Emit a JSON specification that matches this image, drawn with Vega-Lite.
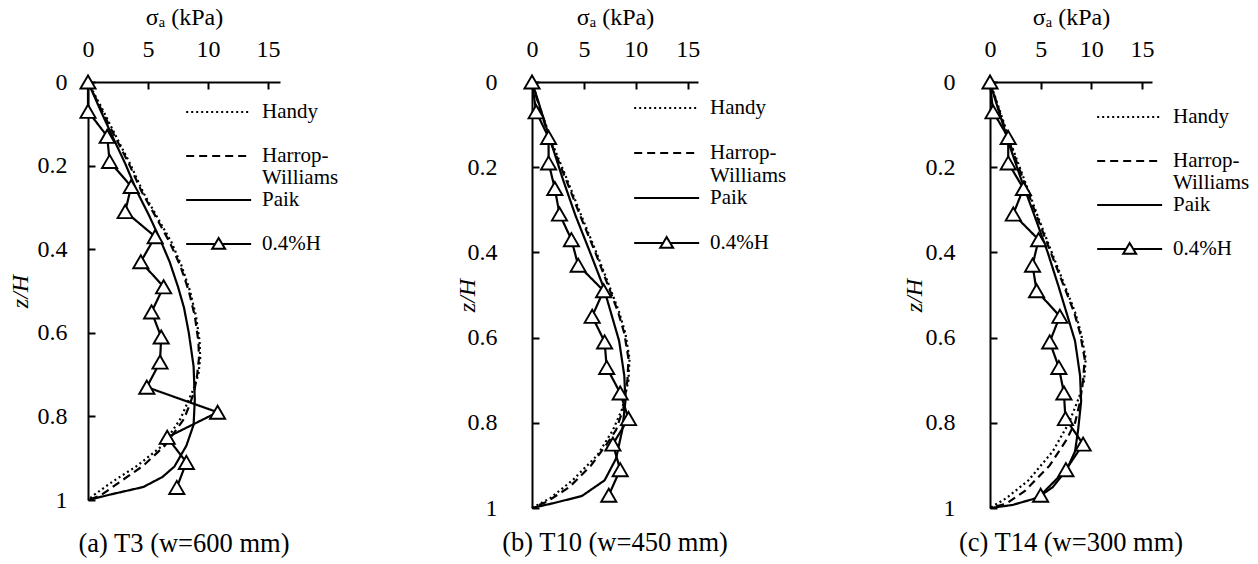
{
  "$schema": "https://vega.github.io/schema/vega-lite/v6.json",
  "padding": {"top": 5, "left": 8, "right": 0, "bottom": 0},
  "spacing": 116,
  "resolve": {"scale": {"strokeDash": "independent"}, "legend": {"strokeDash": "independent"}},
  "config": {
    "font": "Liberation Serif",
    "view": {"stroke": null},
    "axis": {
      "grid": false,
      "domainColor": "black",
      "domainWidth": 2,
      "tickColor": "black",
      "tickWidth": 2,
      "tickSize": -7,
      "labelFlush": false,
      "labelColor": "black",
      "titleColor": "black",
      "labelFont": "Liberation Serif",
      "titleFont": "Liberation Serif",
      "labelFontSize": 24,
      "titleFontSize": 24,
      "titleFontWeight": "normal"
    },
    "title": {"font": "Liberation Serif", "fontSize": 26.5, "fontWeight": "normal", "color": "black"},
    "legend": {
      "orient": "none",
      "title": null,
      "padding": 0,
      "rowPadding": 0,
      "labelFont": "Liberation Serif",
      "labelFontSize": 21,
      "labelColor": "black",
      "symbolType": "M-1,0H5",
      "symbolSize": 469,
      "symbolStrokeWidth": 2,
      "symbolStrokeColor": "black",
      "symbolFillColor": "white",
      "labelOffset": 53
    }
  },
  "datasets": {
    "a": [
      {"m": "Handy", "s": 0, "z": 0}, {"m": "Handy", "s": 1.2, "z": 0.065}, {"m": "Handy", "s": 2.3, "z": 0.128}, {"m": "Handy", "s": 3.5, "z": 0.195}, {"m": "Handy", "s": 4.6, "z": 0.264}, {"m": "Handy", "s": 5.8, "z": 0.325}, {"m": "Handy", "s": 6.95, "z": 0.383}, {"m": "Handy", "s": 7.8, "z": 0.44}, {"m": "Handy", "s": 8.5, "z": 0.5}, {"m": "Handy", "s": 9.0, "z": 0.56}, {"m": "Handy", "s": 9.3, "z": 0.62}, {"m": "Handy", "s": 9.35, "z": 0.66}, {"m": "Handy", "s": 9.2, "z": 0.7}, {"m": "Handy", "s": 8.8, "z": 0.734}, {"m": "Handy", "s": 7.7, "z": 0.806}, {"m": "Handy", "s": 6.2, "z": 0.87}, {"m": "Handy", "s": 4.1, "z": 0.918}, {"m": "Handy", "s": 2.0, "z": 0.957}, {"m": "Handy", "s": 0.4, "z": 0.99}, {"m": "Handy", "s": 0, "z": 1},
      {"m": "Harrop-Williams", "s": 0, "z": 0}, {"m": "Harrop-Williams", "s": 1.1, "z": 0.065}, {"m": "Harrop-Williams", "s": 2.2, "z": 0.128}, {"m": "Harrop-Williams", "s": 3.4, "z": 0.195}, {"m": "Harrop-Williams", "s": 4.5, "z": 0.264}, {"m": "Harrop-Williams", "s": 5.7, "z": 0.325}, {"m": "Harrop-Williams", "s": 6.8, "z": 0.383}, {"m": "Harrop-Williams", "s": 7.7, "z": 0.44}, {"m": "Harrop-Williams", "s": 8.4, "z": 0.5}, {"m": "Harrop-Williams", "s": 8.9, "z": 0.56}, {"m": "Harrop-Williams", "s": 9.2, "z": 0.62}, {"m": "Harrop-Williams", "s": 9.25, "z": 0.66}, {"m": "Harrop-Williams", "s": 9.1, "z": 0.7}, {"m": "Harrop-Williams", "s": 8.85, "z": 0.74}, {"m": "Harrop-Williams", "s": 8.5, "z": 0.77}, {"m": "Harrop-Williams", "s": 8.0, "z": 0.806}, {"m": "Harrop-Williams", "s": 6.4, "z": 0.87}, {"m": "Harrop-Williams", "s": 4.6, "z": 0.918}, {"m": "Harrop-Williams", "s": 2.8, "z": 0.954}, {"m": "Harrop-Williams", "s": 1.0, "z": 0.99}, {"m": "Harrop-Williams", "s": 0, "z": 1},
      {"m": "Paik", "s": 0, "z": 0}, {"m": "Paik", "s": 1.0, "z": 0.065}, {"m": "Paik", "s": 2.0, "z": 0.128}, {"m": "Paik", "s": 3.1, "z": 0.195}, {"m": "Paik", "s": 4.1, "z": 0.263}, {"m": "Paik", "s": 5.1, "z": 0.32}, {"m": "Paik", "s": 6.0, "z": 0.376}, {"m": "Paik", "s": 6.8, "z": 0.43}, {"m": "Paik", "s": 7.5, "z": 0.49}, {"m": "Paik", "s": 8.0, "z": 0.54}, {"m": "Paik", "s": 8.4, "z": 0.6}, {"m": "Paik", "s": 8.8, "z": 0.68}, {"m": "Paik", "s": 8.9, "z": 0.76}, {"m": "Paik", "s": 8.8, "z": 0.82}, {"m": "Paik", "s": 8.2, "z": 0.87}, {"m": "Paik", "s": 7.2, "z": 0.92}, {"m": "Paik", "s": 6.2, "z": 0.945}, {"m": "Paik", "s": 4.6, "z": 0.969}, {"m": "Paik", "s": 2.0, "z": 0.986}, {"m": "Paik", "s": 0, "z": 1},
      {"m": "0.4%H", "s": 0, "z": 0}, {"m": "0.4%H", "s": 0, "z": 0.07}, {"m": "0.4%H", "s": 1.6, "z": 0.13}, {"m": "0.4%H", "s": 1.8, "z": 0.19}, {"m": "0.4%H", "s": 3.6, "z": 0.25}, {"m": "0.4%H", "s": 3.1, "z": 0.31}, {"m": "0.4%H", "s": 5.6, "z": 0.37}, {"m": "0.4%H", "s": 4.4, "z": 0.43}, {"m": "0.4%H", "s": 6.3, "z": 0.49}, {"m": "0.4%H", "s": 5.3, "z": 0.55}, {"m": "0.4%H", "s": 6.1, "z": 0.61}, {"m": "0.4%H", "s": 6.0, "z": 0.67}, {"m": "0.4%H", "s": 4.9, "z": 0.73}, {"m": "0.4%H", "s": 10.8, "z": 0.79}, {"m": "0.4%H", "s": 6.6, "z": 0.85}, {"m": "0.4%H", "s": 8.2, "z": 0.91}, {"m": "0.4%H", "s": 7.4, "z": 0.97}
    ],
    "b": [
      {"m": "Handy", "s": 0, "z": 0}, {"m": "Handy", "s": 0.9, "z": 0.07}, {"m": "Handy", "s": 2.0, "z": 0.147}, {"m": "Handy", "s": 3.4, "z": 0.23}, {"m": "Handy", "s": 4.76, "z": 0.314}, {"m": "Handy", "s": 6.2, "z": 0.4}, {"m": "Handy", "s": 7.5, "z": 0.482}, {"m": "Handy", "s": 8.4, "z": 0.54}, {"m": "Handy", "s": 9.0, "z": 0.59}, {"m": "Handy", "s": 9.4, "z": 0.65}, {"m": "Handy", "s": 9.3, "z": 0.7}, {"m": "Handy", "s": 8.7, "z": 0.767}, {"m": "Handy", "s": 7.8, "z": 0.817}, {"m": "Handy", "s": 6.3, "z": 0.876}, {"m": "Handy", "s": 3.9, "z": 0.935}, {"m": "Handy", "s": 1.75, "z": 0.977}, {"m": "Handy", "s": 0, "z": 1},
      {"m": "Harrop-Williams", "s": 0, "z": 0}, {"m": "Harrop-Williams", "s": 0.85, "z": 0.07}, {"m": "Harrop-Williams", "s": 1.9, "z": 0.147}, {"m": "Harrop-Williams", "s": 3.3, "z": 0.23}, {"m": "Harrop-Williams", "s": 4.65, "z": 0.314}, {"m": "Harrop-Williams", "s": 6.1, "z": 0.4}, {"m": "Harrop-Williams", "s": 7.4, "z": 0.482}, {"m": "Harrop-Williams", "s": 8.3, "z": 0.54}, {"m": "Harrop-Williams", "s": 8.9, "z": 0.59}, {"m": "Harrop-Williams", "s": 9.3, "z": 0.65}, {"m": "Harrop-Williams", "s": 9.2, "z": 0.7}, {"m": "Harrop-Williams", "s": 8.8, "z": 0.767}, {"m": "Harrop-Williams", "s": 8.1, "z": 0.817}, {"m": "Harrop-Williams", "s": 7.2, "z": 0.85}, {"m": "Harrop-Williams", "s": 5.7, "z": 0.9}, {"m": "Harrop-Williams", "s": 3.6, "z": 0.951}, {"m": "Harrop-Williams", "s": 1.45, "z": 0.985}, {"m": "Harrop-Williams", "s": 0, "z": 1},
      {"m": "Paik", "s": 0, "z": 0}, {"m": "Paik", "s": 0.4, "z": 0.03}, {"m": "Paik", "s": 1.9, "z": 0.147}, {"m": "Paik", "s": 3.0, "z": 0.23}, {"m": "Paik", "s": 4.2, "z": 0.314}, {"m": "Paik", "s": 5.6, "z": 0.4}, {"m": "Paik", "s": 6.9, "z": 0.482}, {"m": "Paik", "s": 8.4, "z": 0.608}, {"m": "Paik", "s": 8.9, "z": 0.69}, {"m": "Paik", "s": 9.0, "z": 0.75}, {"m": "Paik", "s": 8.7, "z": 0.817}, {"m": "Paik", "s": 8.1, "z": 0.884}, {"m": "Paik", "s": 7.0, "z": 0.935}, {"m": "Paik", "s": 4.8, "z": 0.972}, {"m": "Paik", "s": 2.0, "z": 0.989}, {"m": "Paik", "s": 0, "z": 1},
      {"m": "0.4%H", "s": 0, "z": 0}, {"m": "0.4%H", "s": 0.4, "z": 0.07}, {"m": "0.4%H", "s": 1.6, "z": 0.13}, {"m": "0.4%H", "s": 1.6, "z": 0.19}, {"m": "0.4%H", "s": 2.2, "z": 0.25}, {"m": "0.4%H", "s": 2.65, "z": 0.31}, {"m": "0.4%H", "s": 3.8, "z": 0.37}, {"m": "0.4%H", "s": 4.45, "z": 0.43}, {"m": "0.4%H", "s": 6.9, "z": 0.49}, {"m": "0.4%H", "s": 5.8, "z": 0.55}, {"m": "0.4%H", "s": 7.0, "z": 0.61}, {"m": "0.4%H", "s": 7.2, "z": 0.67}, {"m": "0.4%H", "s": 8.5, "z": 0.73}, {"m": "0.4%H", "s": 9.3, "z": 0.79}, {"m": "0.4%H", "s": 7.8, "z": 0.85}, {"m": "0.4%H", "s": 8.5, "z": 0.91}, {"m": "0.4%H", "s": 7.4, "z": 0.97}
    ],
    "c": [
      {"m": "Handy", "s": 0, "z": 0}, {"m": "Handy", "s": 1.0, "z": 0.07}, {"m": "Handy", "s": 2.1, "z": 0.147}, {"m": "Handy", "s": 3.4, "z": 0.23}, {"m": "Handy", "s": 4.7, "z": 0.314}, {"m": "Handy", "s": 6.1, "z": 0.4}, {"m": "Handy", "s": 7.45, "z": 0.482}, {"m": "Handy", "s": 8.4, "z": 0.54}, {"m": "Handy", "s": 9.0, "z": 0.59}, {"m": "Handy", "s": 9.45, "z": 0.65}, {"m": "Handy", "s": 9.3, "z": 0.7}, {"m": "Handy", "s": 8.8, "z": 0.74}, {"m": "Handy", "s": 7.8, "z": 0.8}, {"m": "Handy", "s": 6.2, "z": 0.867}, {"m": "Handy", "s": 3.8, "z": 0.935}, {"m": "Handy", "s": 1.6, "z": 0.977}, {"m": "Handy", "s": 0, "z": 1},
      {"m": "Harrop-Williams", "s": 0, "z": 0}, {"m": "Harrop-Williams", "s": 0.95, "z": 0.07}, {"m": "Harrop-Williams", "s": 2.0, "z": 0.147}, {"m": "Harrop-Williams", "s": 3.3, "z": 0.23}, {"m": "Harrop-Williams", "s": 4.6, "z": 0.314}, {"m": "Harrop-Williams", "s": 6.0, "z": 0.4}, {"m": "Harrop-Williams", "s": 7.35, "z": 0.482}, {"m": "Harrop-Williams", "s": 8.3, "z": 0.54}, {"m": "Harrop-Williams", "s": 8.9, "z": 0.59}, {"m": "Harrop-Williams", "s": 9.35, "z": 0.65}, {"m": "Harrop-Williams", "s": 9.2, "z": 0.7}, {"m": "Harrop-Williams", "s": 8.9, "z": 0.75}, {"m": "Harrop-Williams", "s": 8.4, "z": 0.8}, {"m": "Harrop-Williams", "s": 7.5, "z": 0.842}, {"m": "Harrop-Williams", "s": 5.9, "z": 0.9}, {"m": "Harrop-Williams", "s": 3.45, "z": 0.96}, {"m": "Harrop-Williams", "s": 1.6, "z": 0.99}, {"m": "Harrop-Williams", "s": 0, "z": 1},
      {"m": "Paik", "s": 0, "z": 0}, {"m": "Paik", "s": 0.5, "z": 0.04}, {"m": "Paik", "s": 1.9, "z": 0.147}, {"m": "Paik", "s": 3.1, "z": 0.23}, {"m": "Paik", "s": 4.4, "z": 0.314}, {"m": "Paik", "s": 5.7, "z": 0.4}, {"m": "Paik", "s": 6.8, "z": 0.482}, {"m": "Paik", "s": 8.4, "z": 0.608}, {"m": "Paik", "s": 8.9, "z": 0.69}, {"m": "Paik", "s": 9.0, "z": 0.75}, {"m": "Paik", "s": 8.7, "z": 0.817}, {"m": "Paik", "s": 8.4, "z": 0.867}, {"m": "Paik", "s": 7.6, "z": 0.909}, {"m": "Paik", "s": 6.2, "z": 0.951}, {"m": "Paik", "s": 4.7, "z": 0.976}, {"m": "Paik", "s": 2.2, "z": 0.993}, {"m": "Paik", "s": 0, "z": 1},
      {"m": "0.4%H", "s": 0, "z": 0}, {"m": "0.4%H", "s": 0.3, "z": 0.07}, {"m": "0.4%H", "s": 1.8, "z": 0.13}, {"m": "0.4%H", "s": 1.8, "z": 0.19}, {"m": "0.4%H", "s": 3.3, "z": 0.25}, {"m": "0.4%H", "s": 2.3, "z": 0.31}, {"m": "0.4%H", "s": 4.8, "z": 0.37}, {"m": "0.4%H", "s": 4.2, "z": 0.43}, {"m": "0.4%H", "s": 4.6, "z": 0.49}, {"m": "0.4%H", "s": 6.9, "z": 0.55}, {"m": "0.4%H", "s": 5.9, "z": 0.61}, {"m": "0.4%H", "s": 6.8, "z": 0.67}, {"m": "0.4%H", "s": 7.3, "z": 0.73}, {"m": "0.4%H", "s": 7.45, "z": 0.79}, {"m": "0.4%H", "s": 9.2, "z": 0.85}, {"m": "0.4%H", "s": 7.5, "z": 0.91}, {"m": "0.4%H", "s": 5.0, "z": 0.97}
    ]
  },
  "hconcat": [
    {
      "width": 192, "height": 418,
      "data": {"name": "a"},
      "title": {"text": "(a) T3 (w=600 mm)", "orient": "bottom", "anchor": "middle", "frame": "group", "offset": 19},
      "layer": [
        {
          "mark": {"type": "line", "color": "black", "strokeWidth": 2.2},
          "encoding": {
            "x": {"field": "s", "type": "quantitative", "scale": {"domain": [0, 15]}, "axis": {"orient": "top", "title": "σₐ (kPa)", "values": [0, 5, 10, 15], "labelPadding": 28, "titlePadding": 8}},
            "y": {"field": "z", "type": "quantitative", "scale": {"domain": [0, 1], "reverse": true}, "axis": {"title": "z/H", "titleFontStyle": "italic", "values": [0, 0.2, 0.4, 0.6, 0.8, 1], "format": "~g", "labelPadding": 28, "titlePadding": 5}},
            "order": {"field": "z", "type": "quantitative"},
            "detail": {"field": "m", "type": "nominal"},
            "strokeDash": {"field": "m", "type": "nominal", "scale": {"domain": ["Handy", "Harrop-Williams", "Paik", "0.4%H"], "range": [[2, 3], [8, 5], [1, 0], [1, 0]]},
              "legend": {"legendX": 97, "legendY": 18,
                "labelExpr": "datum.label == 'Harrop-Williams' ? ['Harrop-', 'Williams'] : [datum.label, '']",
                "encode": {
                  "symbols": {"update": {"shape": {"signal": "datum.value == '0.4%H' ? 'M-1,0H1.67M2.33,0H5M2,-0.55L2.6,0.45L1.4,0.45Z' : 'M-1,0H5'"}, "fill": {"value": "white"}, "stroke": {"value": "black"}}},
                  "labels": {"update": {"lineHeight": {"value": 21.8}}}
                }}}
          }
        },
        {
          "transform": [{"filter": "datum.m == '0.4%H'"}],
          "mark": {"type": "point", "shape": "triangle-up", "filled": true, "fill": "white", "stroke": "black", "strokeWidth": 1.9, "size": 230, "opacity": 1},
          "encoding": {
            "x": {"field": "s", "type": "quantitative"},
            "y": {"field": "z", "type": "quantitative"}
          }
        }
      ]
    },
    {
      "spacing": 115,
      "resolve": {"scale": {"strokeDash": "independent"}, "legend": {"strokeDash": "independent"}},
      "hconcat": [
        {
          "width": 166, "height": 426,
          "data": {"name": "b"},
          "title": {"text": "(b) T10 (w=450 mm)", "orient": "bottom", "anchor": "middle", "frame": "group", "offset": 10},
          "layer": [
            {
              "mark": {"type": "line", "color": "black", "strokeWidth": 2.2},
              "encoding": {
                "x": {"field": "s", "type": "quantitative", "scale": {"domain": [0, 15]}, "axis": {"orient": "top", "title": "σₐ (kPa)", "values": [0, 5, 10, 15], "labelPadding": 28, "titlePadding": 8}},
                "y": {"field": "z", "type": "quantitative", "scale": {"domain": [0, 1], "reverse": true}, "axis": {"title": "z/H", "titleFontStyle": "italic", "values": [0, 0.2, 0.4, 0.6, 0.8, 1], "format": "~g", "labelPadding": 42, "titlePadding": -12}},
                "order": {"field": "z", "type": "quantitative"},
                "detail": {"field": "m", "type": "nominal"},
                "strokeDash": {"field": "m", "type": "nominal", "scale": {"domain": ["Handy", "Harrop-Williams", "Paik", "0.4%H"], "range": [[2, 3], [8, 5], [1, 0], [1, 0]]},
                  "legend": {"legendX": 101, "legendY": 14,
                    "labelExpr": "datum.label == 'Harrop-Williams' ? ['Harrop-', 'Williams'] : [datum.label, '']",
                    "encode": {
                      "symbols": {"update": {"shape": {"signal": "datum.value == '0.4%H' ? 'M-1,0H1.67M2.33,0H5M2,-0.55L2.6,0.45L1.4,0.45Z' : 'M-1,0H5'"}, "fill": {"value": "white"}, "stroke": {"value": "black"}}},
                      "labels": {"update": {"lineHeight": {"value": 22.5}}}
                    }}}
              }
            },
            {
              "transform": [{"filter": "datum.m == '0.4%H'"}],
              "mark": {"type": "point", "shape": "triangle-up", "filled": true, "fill": "white", "stroke": "black", "strokeWidth": 1.9, "size": 230, "opacity": 1},
              "encoding": {
                "x": {"field": "s", "type": "quantitative"},
                "y": {"field": "z", "type": "quantitative"}
              }
            }
          ]
        },
        {
          "width": 162, "height": 426,
          "data": {"name": "c"},
          "title": {"text": "(c) T14 (w=300 mm)", "orient": "bottom", "anchor": "middle", "frame": "group", "offset": 10},
          "layer": [
            {
              "mark": {"type": "line", "color": "black", "strokeWidth": 2.2},
              "encoding": {
                "x": {"field": "s", "type": "quantitative", "scale": {"domain": [0, 15]}, "axis": {"orient": "top", "title": "σₐ (kPa)", "values": [0, 5, 10, 15], "labelPadding": 28, "titlePadding": 8}},
                "y": {"field": "z", "type": "quantitative", "scale": {"domain": [0, 1], "reverse": true}, "axis": {"title": "z/H", "titleFontStyle": "italic", "values": [0, 0.2, 0.4, 0.6, 0.8, 1], "format": "~g", "labelPadding": 42, "titlePadding": -1}},
                "order": {"field": "z", "type": "quantitative"},
                "detail": {"field": "m", "type": "nominal"},
                "strokeDash": {"field": "m", "type": "nominal", "scale": {"domain": ["Handy", "Harrop-Williams", "Paik", "0.4%H"], "range": [[2, 3], [8, 5], [1, 0], [1, 0]]},
                  "legend": {"legendX": 106, "legendY": 23,
                    "labelExpr": "datum.label == 'Harrop-Williams' ? ['Harrop-', 'Williams'] : [datum.label, '']",
                    "encode": {
                      "symbols": {"update": {"shape": {"signal": "datum.value == '0.4%H' ? 'M-1,0H1.67M2.33,0H5M2,-0.55L2.6,0.45L1.4,0.45Z' : 'M-1,0H5'"}, "fill": {"value": "white"}, "stroke": {"value": "black"}}},
                      "labels": {"update": {"lineHeight": {"value": 21.8}}}
                    }}}
              }
            },
            {
              "transform": [{"filter": "datum.m == '0.4%H'"}],
              "mark": {"type": "point", "shape": "triangle-up", "filled": true, "fill": "white", "stroke": "black", "strokeWidth": 1.9, "size": 230, "opacity": 1},
              "encoding": {
                "x": {"field": "s", "type": "quantitative"},
                "y": {"field": "z", "type": "quantitative"}
              }
            }
          ]
        }
      ]
    }
  ]
}
